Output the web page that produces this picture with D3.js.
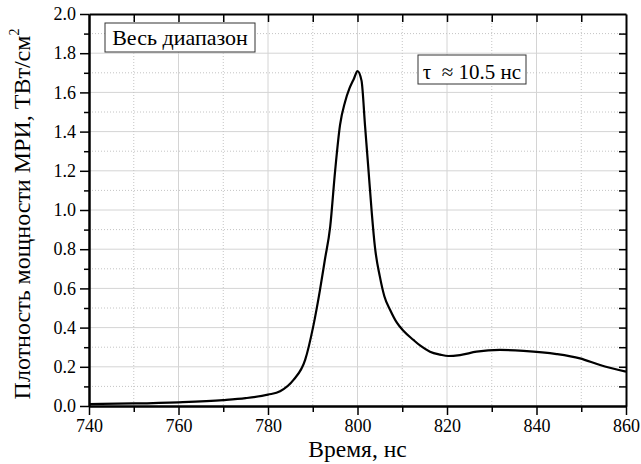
<!DOCTYPE html>
<html><head><meta charset="utf-8">
<script src="https://cdn.jsdelivr.net/npm/d3@7"></script>
<style>body{margin:0;background:#fff}svg{display:block}</style>
</head><body><svg id="c" width="641" height="464"></svg>
<script>
const times = [740,750,760,770,775,780,782.7,785.7,788.3,790.1,791.6,792.7,793.9,795.0,796.1,797.2,798.2,799.2,800,800.9,801.7,802.4,803.2,803.9,805.0,806.0,807.3,808.8,810.2,812.5,814.2,816.2,818.5,820.3,822.9,826.6,831.8,837.1,844.5,849.7,854.2,860];
const power = [0.01,0.013,0.019,0.03,0.04,0.058,0.075,0.133,0.235,0.405,0.59,0.745,0.915,1.20,1.434,1.55,1.62,1.67,1.709,1.66,1.425,1.22,0.983,0.81,0.66,0.56,0.49,0.425,0.385,0.337,0.305,0.277,0.262,0.255,0.26,0.277,0.286,0.281,0.265,0.243,0.209,0.175];
const xTicks = [740,760,780,800,820,840,860];
const yTicks = [0,0.2,0.4,0.6,0.8,1.0,1.2,1.4,1.6,1.8,2.0];
const xLabel = "Время, нс";
const yLabel = "Плотность мощности МРИ, ТВт/см";
const legend1 = "Весь диапазон";
const legend2 = "τ  ≈ 10.5 нс";

const FONT = "Liberation Serif";
const L=89,R=626,T=14,B=406;
const svg=d3.select("#c");
const x=d3.scaleLinear().domain([740,860]).range([L,R]);
const y=d3.scaleLinear().domain([0,2]).range([B,T]);
const xMinor=d3.range(750,860,20), yMinor=d3.range(0.1,2,0.2);
const xAll=d3.range(750,860,10), yAll=d3.range(1,20).map(i=>i/10);

const g=svg.append("g");
g.selectAll(".gx").data(xTicks.slice(1,-1)).join("line").attr("x1",d=>x(d)).attr("x2",d=>x(d)).attr("y1",T).attr("y2",B).attr("stroke","#d4d4d4").attr("stroke-width",1);
g.selectAll(".gy").data(yTicks.slice(1,-1)).join("line").attr("y1",d=>y(d)).attr("y2",d=>y(d)).attr("x1",L).attr("x2",R).attr("stroke","#d4d4d4").attr("stroke-width",1);
g.selectAll(".mx").data(xMinor).join("line").attr("x1",d=>x(d)).attr("x2",d=>x(d)).attr("y1",T).attr("y2",B).attr("stroke","#c4c4c4").attr("stroke-width",1).attr("stroke-dasharray","1,2");
g.selectAll(".my").data(yMinor).join("line").attr("y1",d=>y(d)).attr("y2",d=>y(d)).attr("x1",L).attr("x2",R).attr("stroke","#c4c4c4").attr("stroke-width",1).attr("stroke-dasharray","1,2");

svg.append("path").datum(times.map((t,i)=>[t,power[i]])).attr("fill","none").attr("stroke","#000").attr("stroke-width",2.2).attr("stroke-linejoin","round")
  .attr("d",d3.line().x(d=>x(d[0])).y(d=>y(d[1])).curve(d3.curveMonotoneX));

const fmtY=d3.format(".1f");
function styleAx(a){a.attr("font-family",null).attr("font-size",null);a.select(".domain").attr("stroke-width",2);a.selectAll(".tick line").attr("stroke-width",1.5);a.selectAll("text").style("font-family",FONT).style("font-size","18px").style("fill","#000");}
svg.append("g").attr("transform",`translate(0,${B})`).call(d3.axisBottom(x).tickValues(xTicks).tickSize(9).tickSizeOuter(0).tickPadding(4)).call(styleAx);
svg.append("g").attr("transform",`translate(0,${B})`).call(d3.axisBottom(x).tickValues(xMinor).tickSize(6).tickSizeOuter(0).tickFormat("")).call(styleAx);
svg.append("g").attr("transform",`translate(${L},0)`).call(d3.axisLeft(y).tickValues(yTicks).tickFormat(fmtY).tickSize(9).tickSizeOuter(0).tickPadding(4)).call(styleAx);
svg.append("g").attr("transform",`translate(${L},0)`).call(d3.axisLeft(y).tickValues(yMinor).tickSize(5).tickSizeOuter(0).tickFormat("")).call(styleAx);
svg.append("g").attr("transform",`translate(0,${T})`).call(d3.axisBottom(x).tickValues(xAll).tickSize(8).tickSizeOuter(0).tickFormat("")).call(styleAx);
svg.append("g").attr("transform",`translate(${R},0)`).call(d3.axisLeft(y).tickValues(yAll).tickSize(7).tickSizeOuter(0).tickFormat("")).call(styleAx);

svg.append("text").attr("x",(L+R)/2).attr("y",457).attr("text-anchor","middle").style("font-family",FONT).style("font-size","23.5px").text(xLabel);
const yl=svg.append("text").attr("transform",`translate(30,${(T+B)/2+4}) rotate(-90)`).attr("text-anchor","middle").style("font-family",FONT).style("font-size","24px");
yl.append("tspan").text(yLabel);
yl.append("tspan").attr("dy",-11).style("font-size","14px").text("2");

function box(bx,by,bw,bh,txt,base,fs){
  svg.append("rect").attr("x",bx).attr("y",by).attr("width",bw).attr("height",bh).attr("fill","#fff").attr("stroke","#333").attr("stroke-width",1);
  svg.append("text").attr("x",bx+bw/2).attr("y",base).attr("text-anchor","middle").style("font-family",FONT).style("font-size",fs).style("white-space","pre").text(txt);
}
box(105,23,150,29,legend1,45,"22px");
box(418,55,108,29,legend2,79,"21px");
</script></body></html>
